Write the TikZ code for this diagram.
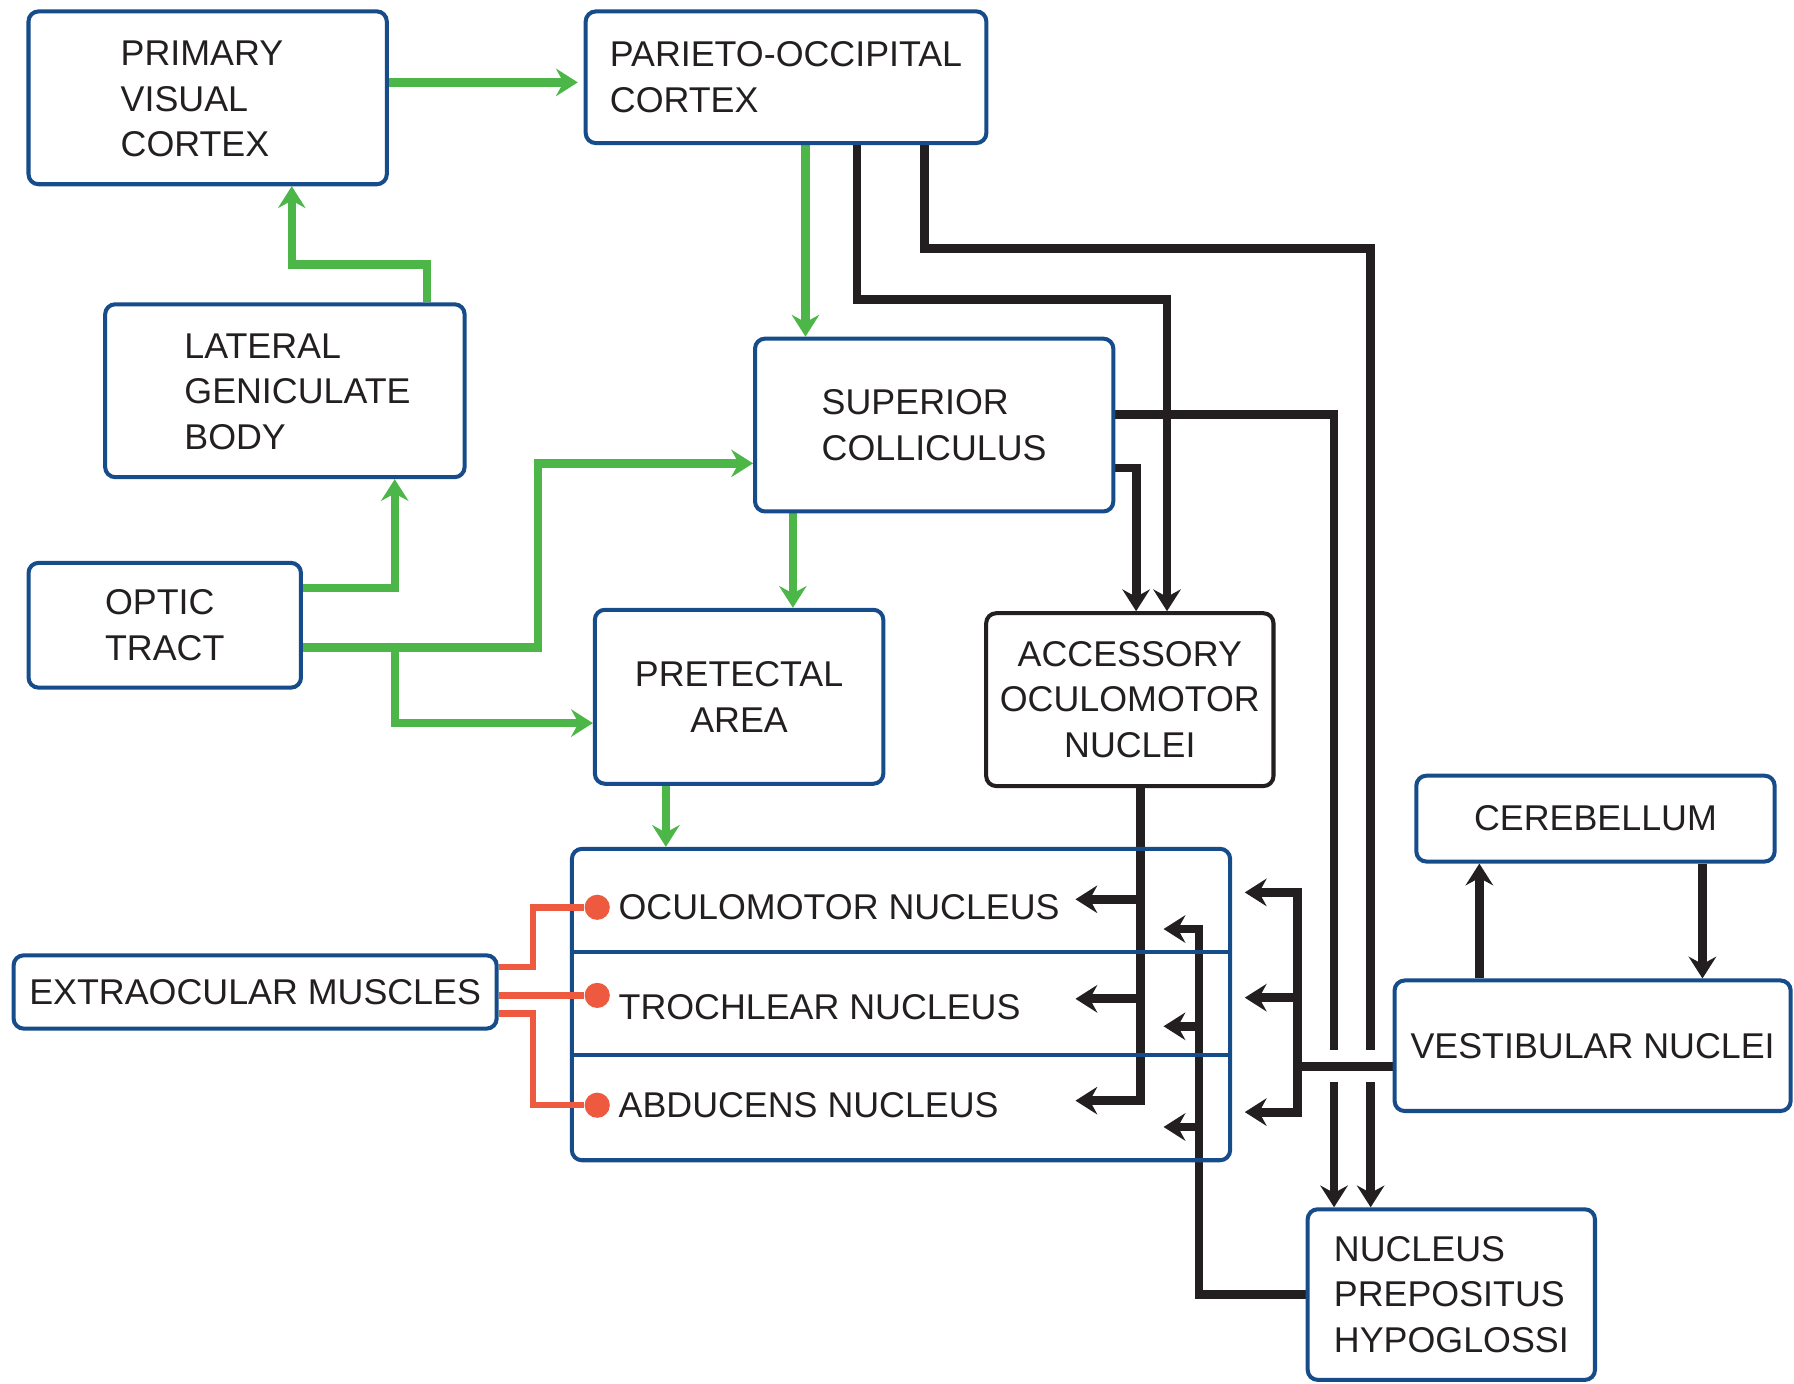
\documentclass[tikz,border=0pt]{standalone}
\usepackage{fontspec}
\setmainfont{Liberation Sans}
\usetikzlibrary{arrows.meta,calc}
\definecolor{boxblue}{RGB}{22,76,138}
\definecolor{pathgreen}{RGB}{76,182,72}
\definecolor{pathblack}{RGB}{35,31,32}
\definecolor{musclered}{RGB}{238,90,64}
\pgfdeclarelayer{back}
\pgfsetlayers{back,main}

\begin{document}
\begin{tikzpicture}[x=0.01cm,y=-0.01cm,
  font=\fontsize{8.9}{11.4}\selectfont,
  box/.style={draw=boxblue, line width=1pt, rounded corners=2.5pt,
    fill=white, inner sep=0pt, text=pathblack},
  darkbox/.style={box, draw=pathblack},
  tip/.style={-{Stealth[length=1.9mm,width=2.4mm,inset=0.65mm]}},
  gline/.style={draw=pathgreen, line width=2.1pt},
  garrow/.style={gline, tip},
  bline/.style={draw=pathblack, line width=2.2pt},
  barrow/.style={bline, tip},
  rline/.style={draw=musclered, line width=1.6pt},
  rdot/.style={circle, fill=musclered, inner sep=0pt, minimum size=0.22cm},
  rowlabel/.style={anchor=west, inner sep=0pt, text=pathblack}]

\useasboundingbox (0,0) rectangle (1568,1209);

% ---------- boxes ----------
\node[box, minimum width=3.13cm, minimum height=1.51cm]
  (pvc) at (181.5,85.5)
  {\raisebox{-1pt}[\height][\depth]{\begin{tabular}{@{}l@{\hspace{0.1cm}}}PRIMARY\\VISUAL\\CORTEX\end{tabular}}};
\node[box, minimum width=3.50cm, minimum height=1.15cm, align=left]
  (poc) at (687,67.5) {PARIETO-OCCIPITAL\\CORTEX};
\node[box, minimum width=3.14cm, minimum height=1.51cm]
  (lgb) at (249,341.5)
  {\raisebox{-1pt}[\height][\depth]{\begin{tabular}{@{\hspace{0.22cm}}l@{}}LATERAL\\GENICULATE\\BODY\end{tabular}}};
\node[box, minimum width=3.13cm, minimum height=1.51cm, align=left]
  (sc) at (816.5,371.5) {SUPERIOR\\COLLICULUS};
\node[box, minimum width=2.38cm, minimum height=1.09cm, align=left]
  (optic) at (144,546.5) {OPTIC\\TRACT};
\node[box, minimum width=2.52cm, minimum height=1.52cm, align=center]
  (pre) at (646,609) {PRETECTAL\\AREA};
\node[darkbox, minimum width=2.51cm, minimum height=1.51cm, align=center]
  (acc) at (987.5,611.5) {ACCESSORY\\OCULOMOTOR\\NUCLEI};
\node[box, minimum width=3.13cm, minimum height=0.75cm]
  (cer) at (1394.5,715.5) {CEREBELLUM};
\node[box, minimum width=3.46cm, minimum height=1.14cm]
  (vest) at (1392,914) {VESTIBULAR NUCLEI};
\node[box, minimum width=2.51cm, minimum height=1.49cm, align=left]
  (nph) at (1268.5,1131.5) {NUCLEUS\\PREPOSITUS\\HYPOGLOSSI};
\node[box, minimum width=4.22cm, minimum height=0.64cm]
  (eom) at (223,867) {EXTRAOCULAR MUSCLES};

% motor nuclei frame (open, so the fibres show through)
\node[box, fill=none, minimum width=5.75cm, minimum height=2.72cm]
  (nuc) at (787.5,878) {};
\draw[boxblue, line width=1pt] (nuc.west |- 0,832) -- (nuc.east |- 0,832);
\draw[boxblue, line width=1pt] (nuc.west |- 0,922) -- (nuc.east |- 0,922);
\node[rowlabel] (oculo) at (540,793) {OCULOMOTOR NUCLEUS};
\node[rowlabel] (troch) at (540,880) {TROCHLEAR NUCLEUS};
\node[rowlabel] (abdu)  at (540,966) {ABDUCENS NUCLEUS};
\node[rdot] (d1) at (522,793) {};
\node[rdot] (d2) at (522,870) {};
\node[rdot] (d3) at (522,966) {};

% ---------- fibres ----------
\begin{pgfonlayer}{back}
  % visual pathways
  \draw[garrow] (pvc.east |- 0,72) -- (505,72);
  \draw[garrow] (poc.south -| 704,0) -- (sc.north -| 704,0);
  \draw[garrow] (lgb.north -| 373,0) |- (255,231) -- (pvc.south -| 255,0);
  \draw[garrow] (optic.east |- 0,514) -| (lgb.south -| 345,0);
  \coordinate (split) at (345,566);
  \draw[garrow] (optic.east |- 0,566) -| (470,405) -- (sc.west |- 0,405);
  \draw[garrow] (split) |- (pre.west |- 0,632);
  \draw[garrow] (sc.south -| 693,0) -- (pre.north -| 693,0);
  \draw[garrow] (pre.south -| 582,0) -- (nuc.north -| 582,0);

  % cortical and collicular projections
  \draw[barrow] (poc.south -| 749,0) |- (1020,262) -- (acc.north -| 1020,0);
  \draw[bline]  (poc.south -| 808,0) |- (1198,217) -- (1198,918);
  \draw[barrow] (1198,946) -- (nph.north -| 1198,0);
  \draw[bline]  (sc.east |- 0,362) -| (1166,918);
  \draw[barrow] (1166,946) -- (nph.north -| 1166,0);
  \draw[barrow] (sc.east |- 0,409) -| (acc.north -| 993,0);

  % accessory oculomotor nuclei to motor nuclei
  \draw[barrow] (acc.south -| 997,0) |- (940,962);
  \draw[barrow] (997,786) -- (940,786);
  \draw[barrow] (997,873) -- (940,873);

  % nucleus prepositus hypoglossi to motor nuclei
  \draw[barrow] (nph.west) -| (1048,812) -- (1017,812);
  \draw[barrow] (1048,897) -- (1017,897);
  \draw[barrow] (1048,985) -- (1017,985);

  % vestibular nuclei to motor nuclei
  \draw[barrow] (vest.west |- 0,932) -| (1134,780) -- (1088,780);
  \draw[barrow] (1134,932) |- (1088,972);
  \draw[barrow] (1134,872) -- (1088,872);

  % vestibulo-cerebellar loop
  \draw[barrow] (vest.north -| 1293,0) -- (cer.south -| 1293,0);
  \draw[barrow] (cer.south -| 1488,0) -- (vest.north -| 1488,0);
\end{pgfonlayer}

% motor nerves to the extraocular muscles
\draw[rline] (eom.east |- 0,845) -| (466,793) -- (d1);
\draw[rline] (eom.east |- 0,870) -- (d2);
\draw[rline] (eom.east |- 0,886) -| (466,966) -- (d3);

\end{tikzpicture}
\end{document}
